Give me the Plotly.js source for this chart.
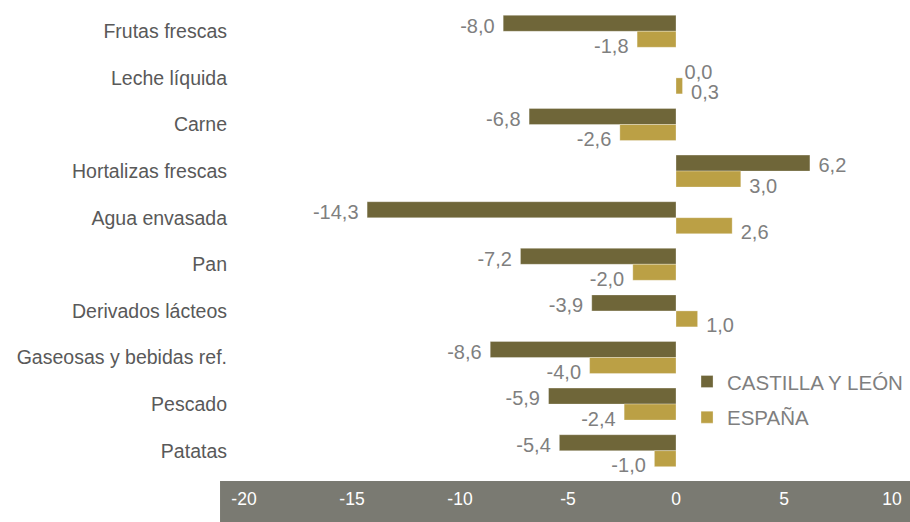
<!DOCTYPE html>
<html>
<head>
<meta charset="utf-8">
<script src="https://cdn.plot.ly/plotly-3.0.1.min.js"></script>
<style>html,body{margin:0;padding:0;background:#fff;}#chart{width:910px;height:522px;}</style>
</head>
<body>
<div id="chart"></div>
<script>
var categories = ["Frutas frescas","Leche líquida","Carne","Hortalizas frescas","Agua envasada","Pan","Derivados lácteos","Gaseosas y bebidas ref.","Pescado","Patatas"];
var castillaValues = [-8.0, 0.0, -6.8, 6.2, -14.3, -7.2, -3.9, -8.6, -5.9, -5.4];
var espanaValues = [-1.8, 0.3, -2.6, 3.0, 2.6, -2.0, 1.0, -4.0, -2.4, -1.0];
var seriesNames = ["CASTILLA Y LEÓN", "ESPAÑA"];
var tickValues = [-20, -15, -10, -5, 0, 5, 10];
var tickLabels = ["-20", "-15", "-10", "-5", "0", "5", "10"];

function fmt(v) {
  var s = v.toFixed(1).replace('.', ',');
  return v < 0 ? s + '\u00a0' : '\u00a0' + s;
}

var FONT = 'Liberation Sans, Arial, sans-serif';
var labelFont = {family: FONT, size: 20, color: '#7f7f7f'};
var BW = 0.343;

var traces = [
  {
    type: 'bar', orientation: 'h', name: seriesNames[0], legendgroup: 'a',
    y: categories, x: castillaValues,
    offset: -BW, width: BW,
    marker: {color: '#6f6639', line: {color: 'rgba(255,255,255,0.5)', width: 0.6}},
    hoverinfo: 'none'
  },
  {
    type: 'bar', orientation: 'h', name: seriesNames[1], legendgroup: 'b',
    y: categories, x: espanaValues,
    offset: 0, width: BW,
    marker: {color: '#bba045', line: {color: 'rgba(255,255,255,0.5)', width: 0.6}},
    hoverinfo: 'none'
  },
  {
    type: 'bar', orientation: 'h', name: seriesNames[0] + ' labels', showlegend: false,
    y: categories, x: castillaValues, text: castillaValues.map(fmt),
    offset: -BW + 0.05, width: BW,
    textposition: 'outside', textfont: labelFont, constraintext: 'none', cliponaxis: false,
    marker: {color: 'rgba(0,0,0,0)', line: {width: 0}},
    hoverinfo: 'none'
  },
  {
    type: 'bar', orientation: 'h', name: seriesNames[1] + ' labels', showlegend: false,
    y: categories, x: espanaValues, text: espanaValues.map(fmt),
    offset: 0.14, width: BW,
    textposition: 'outside', textfont: labelFont, constraintext: 'none', cliponaxis: false,
    marker: {color: 'rgba(0,0,0,0)', line: {width: 0}},
    hoverinfo: 'none'
  }
];

var layout = {
  width: 910, height: 522,
  margin: {l: 244, r: 0, t: 8, b: 48},
  paper_bgcolor: '#ffffff', plot_bgcolor: 'rgba(0,0,0,0)',
  barmode: 'overlay',
  font: {family: FONT, color: '#595959'},
  xaxis: {
    domain: [0, 648 / 666],
    range: [-20, 10], tickvals: tickValues, ticktext: tickLabels,
    showgrid: false, zeroline: false, showline: false, ticks: '',
    tickfont: {family: FONT, size: 17.5, color: '#ffffff'},
    ticklabelstandoff: 12, fixedrange: true
  },
  yaxis: {
    autorange: 'reversed', showgrid: false, zeroline: false, showline: false, ticks: '',
    tickfont: {family: FONT, size: 19.5, color: '#595959'},
    ticklabelstandoff: 16, fixedrange: true
  },
  legend: {
    x: 0.6652, xanchor: 'left', y: 0.241, yanchor: 'top',
    traceorder: 'grouped', tracegroupgap: 6,
    bgcolor: 'rgba(0,0,0,0)',
    font: {family: FONT, size: 20.5, color: '#7f7f7f'}
  },
  shapes: [{
    type: 'rect', xref: 'paper', yref: 'paper', layer: 'below',
    x0: -0.036, x1: 1.0, y0: -0.12, y1: -0.0148,
    fillcolor: '#7a7a72', line: {width: 0}
  }],
  showlegend: true
};

Plotly.newPlot('chart', traces, layout, {displayModeBar: false, staticPlot: true});
</script>
</body>
</html>
